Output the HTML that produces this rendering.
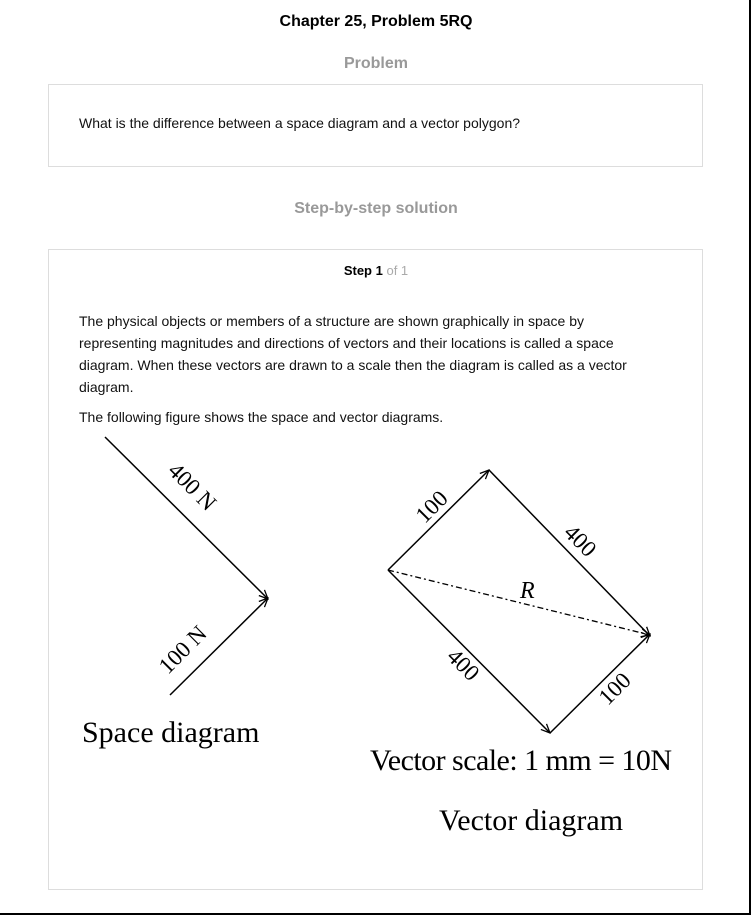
<!DOCTYPE html>
<html><head><meta charset="utf-8"><style>
body{margin:0;width:752px;height:917px;background:#fff;font-family:"Liberation Sans",Arial,sans-serif;position:relative;overflow:hidden}
.frame{position:absolute;left:0;top:0;width:749px;height:913px;border-right:2px solid #000;border-bottom:2px solid #000}
.abs{position:absolute;white-space:nowrap}
.box{position:absolute;border:1px solid #ddd;box-sizing:border-box}
.p{font-size:14px;color:#111;line-height:22px}
</style></head><body>
<div class="frame"></div>
<div class="abs" style="left:0;width:752px;text-align:center;top:13px;font-size:16px;font-weight:bold">Chapter 25, Problem 5RQ</div>
<div class="abs" style="left:0;width:752px;text-align:center;top:55px;font-size:16px;font-weight:bold;color:#999">Problem</div>
<div class="box" style="left:48px;top:84px;width:655px;height:83px"></div>
<div class="abs p" style="left:79px;top:112px">What is the difference between a space diagram and a vector polygon?</div>
<div class="abs" style="left:0;width:752px;text-align:center;top:200px;font-size:16px;font-weight:bold;color:#999">Step-by-step solution</div>
<div class="box" style="left:48px;top:249px;width:655px;height:641px"></div>
<div class="abs" style="left:0;width:752px;text-align:center;top:263px;font-size:13px"><b>Step 1</b> <span style="color:#aaa">of 1</span></div>
<div class="abs p" style="left:79px;top:310px;white-space:normal;width:570px">The physical objects or members of a structure are shown graphically in space by representing magnitudes and directions of vectors and their locations is called a space diagram. When these vectors are drawn to a scale then the diagram is called as a vector diagram.</div>
<div class="abs p" style="left:79px;top:406px">The following figure shows the space and vector diagrams.</div>
<svg class="abs" style="left:0;top:0" width="752" height="917" font-family="Liberation Serif, serif">
<defs><marker id="ar" markerWidth="10" markerHeight="10" refX="9" refY="5" orient="auto" markerUnits="userSpaceOnUse"><path d="M0,1 L9,5 L0,9" fill="none" stroke="#000" stroke-width="1.3"/></marker></defs>
<g stroke="#000" stroke-width="1.5" fill="none">
<line x1="105" y1="437" x2="268" y2="599" marker-end="url(#ar)"/>
<line x1="170" y1="695" x2="268" y2="598" marker-end="url(#ar)"/>
<line x1="388" y1="570" x2="489" y2="470" marker-end="url(#ar)"/>
<line x1="489" y1="470" x2="650" y2="636" marker-end="url(#ar)"/>
<line x1="388" y1="570" x2="550" y2="733" marker-end="url(#ar)"/>
<line x1="550" y1="733" x2="650" y2="634" marker-end="url(#ar)"/>
<line x1="388" y1="570" x2="650" y2="635" stroke-dasharray="6,3,2,3" stroke-width="1.3" marker-end="url(#ar)"/>
</g>
<g font-size="23" fill="#000">
<text transform="translate(187,492) rotate(45)" text-anchor="middle">400 N</text>
<text transform="translate(188,655) rotate(-45)" text-anchor="middle">100 N</text>
<text transform="translate(437,512) rotate(-45)" text-anchor="middle">100</text>
<text transform="translate(575,546) rotate(45)" text-anchor="middle">400</text>
<text x="520" y="598" font-style="italic" font-size="24">R</text>
<text transform="translate(458,670) rotate(45)" text-anchor="middle">400</text>
<text transform="translate(620,694) rotate(-45)" text-anchor="middle">100</text>
</g>
<g font-size="30" fill="#000">
<text x="82" y="742">Space diagram</text>
<text x="370" y="770" textLength="302">Vector scale: 1 mm = 10N</text>
<text x="531" y="830" text-anchor="middle">Vector diagram</text>
</g>
</svg>
</body></html>
